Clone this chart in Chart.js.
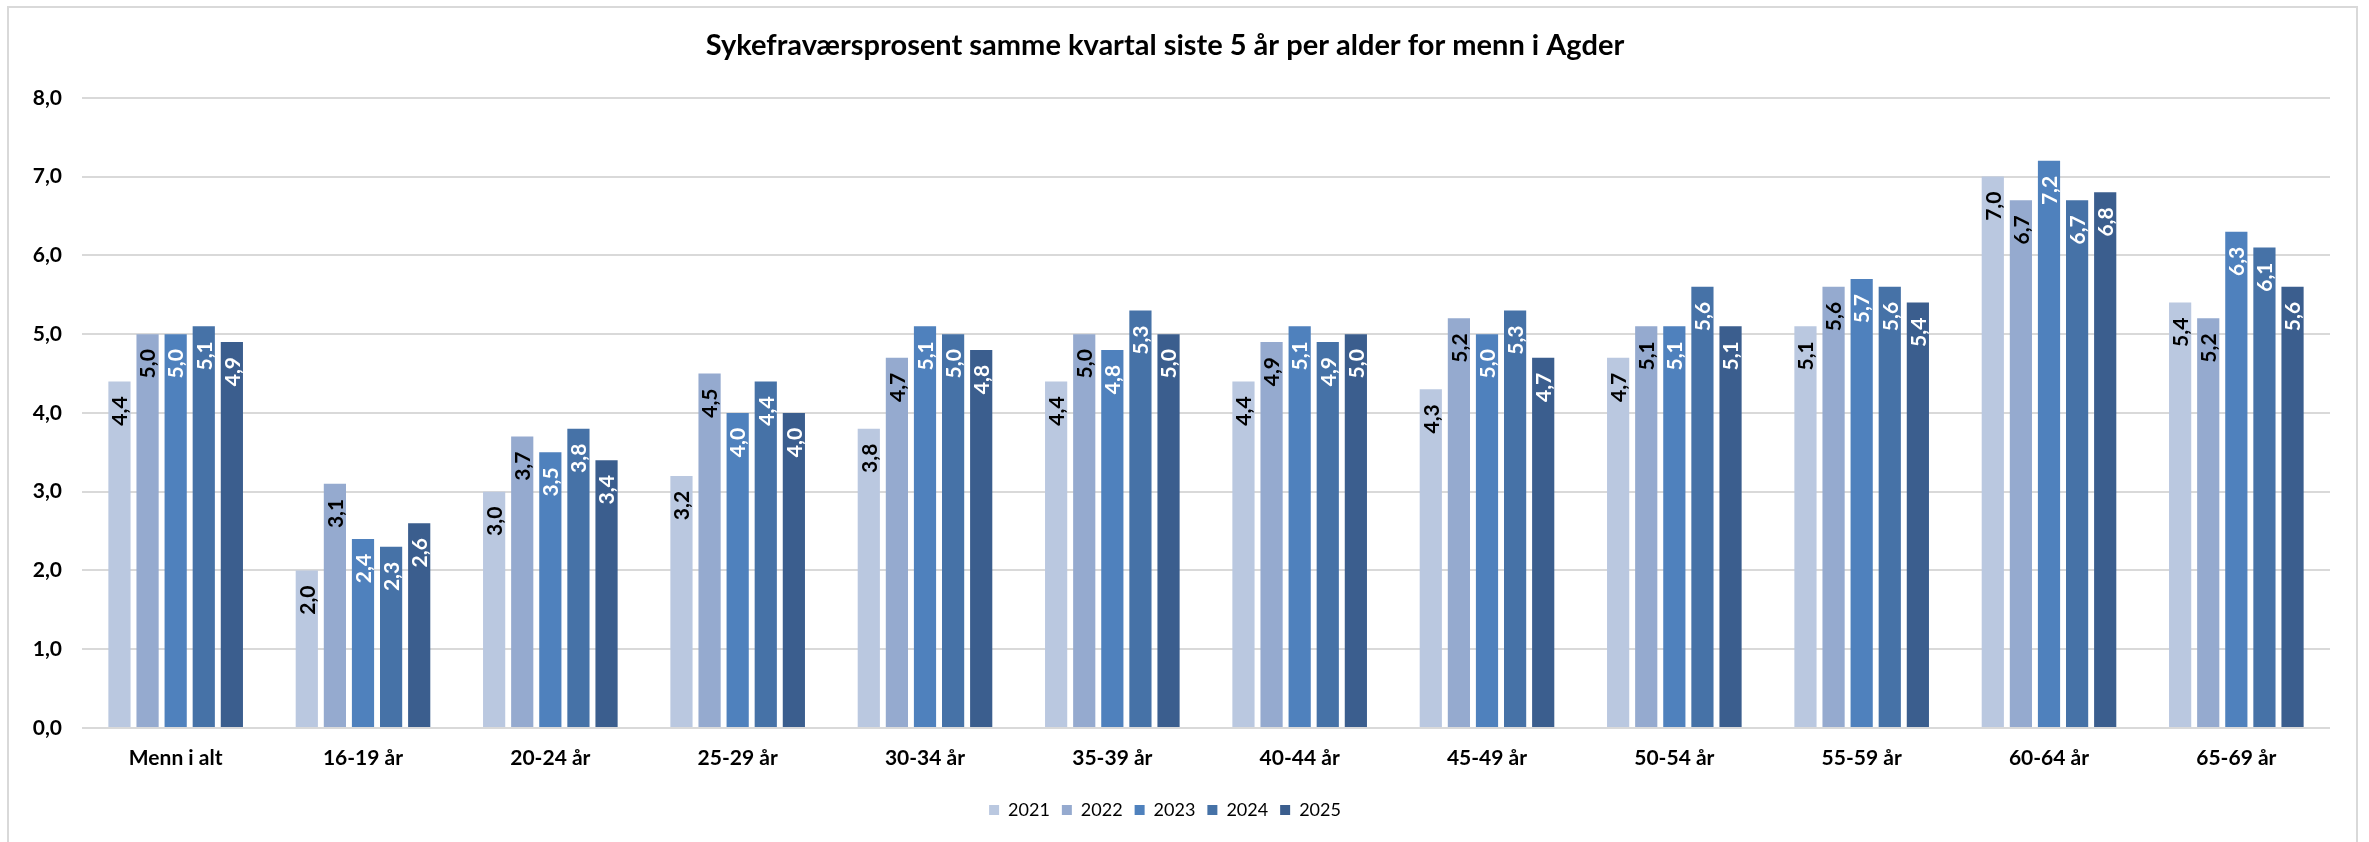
<!DOCTYPE html>
<html>
<head>
<meta charset="utf-8">
<script src="https://cdn.jsdelivr.net/npm/chart.js@4.4.1/dist/chart.umd.min.js"></script>
<style>
  html, body { margin: 0; padding: 0; background: #fff; overflow: hidden; }
  #wrap { position: relative; width: 2369px; height: 842px; }
  #frame { position: absolute; left: 7px; top: 6px; width: 2351px; height: 860px; border: 2px solid #d9d9d9; box-sizing: border-box; }
  canvas { position: absolute; left: 0; top: 0; }
</style>
</head>
<body>
<div id="wrap">
  <div id="frame"></div>
  <canvas id="chart" width="2369" height="842"></canvas>
</div>
<script>
// ── Data ──────────────────────────────────────────────────────────
const categories = ['Menn i alt', '16-19 år', '20-24 år', '25-29 år', '30-34 år', '35-39 år',
  '40-44 år', '45-49 år', '50-54 år', '55-59 år', '60-64 år', '65-69 år'];
const years = ['2021', '2022', '2023', '2024', '2025'];

const v2021 = [4.4, 2.0, 3.0, 3.2, 3.8, 4.4, 4.4, 4.3, 4.7, 5.1, 7.0, 5.4];
const v2022 = [5.0, 3.1, 3.7, 4.5, 4.7, 5.0, 4.9, 5.2, 5.1, 5.6, 6.7, 5.2];
const v2023 = [5.0, 2.4, 3.5, 4.0, 5.1, 4.8, 5.1, 5.0, 5.1, 5.7, 7.2, 6.3];
const v2024 = [5.1, 2.3, 3.8, 4.4, 5.0, 5.3, 4.9, 5.3, 5.6, 5.6, 6.7, 6.1];
const v2025 = [4.9, 2.6, 3.4, 4.0, 4.8, 5.0, 5.0, 4.7, 5.1, 5.4, 6.8, 5.6];

const colors = ['#bac8e0', '#95aacf', '#4f81bd', '#4672a7', '#3b5e8e'];
const labelColors = ['#000', '#000', '#fff', '#fff', '#fff'];

const FONT = 'Lato, "Open Sans", sans-serif';
const fmt = v => v.toFixed(1).replace('.', ',');

// ── Value labels (rotated, inside end) ───────────────────────────
const barLabels = {
  id: 'barLabels',
  afterDatasetsDraw(chart) {
    const ctx = chart.ctx;
    ctx.save();
    ctx.font = 'bold 21px ' + FONT;
    ctx.textAlign = 'right';
    ctx.textBaseline = 'middle';
    chart.data.datasets.forEach((ds, i) => {
      const meta = chart.getDatasetMeta(i);
      meta.data.forEach((bar, j) => {
        ctx.save();
        ctx.translate(bar.x, bar.y + 15);
        ctx.rotate(-Math.PI / 2);
        ctx.fillStyle = labelColors[i];
        ctx.fillText(fmt(ds.data[j]), 0, 1);
        ctx.restore();
      });
    });
    ctx.restore();
  }
};

const series = [v2021, v2022, v2023, v2024, v2025];

new Chart(document.getElementById('chart'), {
  type: 'bar',
  data: {
    labels: categories,
    datasets: series.map((data, i) => ({
      label: years[i],
      data,
      backgroundColor: colors[i],
      borderWidth: 0,
      categoryPercentage: 0.75,
      barPercentage: 0.79
    }))
  },
  options: {
    responsive: false,
    animation: false,
    devicePixelRatio: 1,
    layout: { padding: { left: 0, right: 39, top: 0, bottom: 13 } },
    plugins: {
      title: {
        display: true,
        text: 'Sykefraværsprosent samme kvartal siste 5 år per alder for menn i Agder',
        color: '#000',
        font: { family: FONT, size: 29, weight: 'bold' },
        padding: { top: 28, bottom: 35 }
      },
      legend: {
        position: 'bottom',
        labels: {
          color: '#000',
          font: { family: FONT, size: 18 },
          boxWidth: 10,
          boxHeight: 10,
          padding: 12
        }
      },
      tooltip: { enabled: false }
    },
    scales: {
      x: {
        grid: { display: false },
        border: { display: false },
        ticks: { color: '#000', font: { family: FONT, size: 21, weight: 'bold' }, padding: 10 },
        afterFit(s) { s.height = 61; }
      },
      y: {
        min: 0,
        max: 8,
        ticks: {
          stepSize: 1,
          color: '#000',
          font: { family: FONT, size: 21, weight: 'bold' },
          padding: 20,
          callback: v => fmt(v)
        },
        grid: { color: '#d9d9d9', lineWidth: 2, drawTicks: false },
        border: { display: false },
        afterFit(s) { s.width = 82; }
      }
    }
  },
  plugins: [barLabels]
});
</script>
</body>
</html>
